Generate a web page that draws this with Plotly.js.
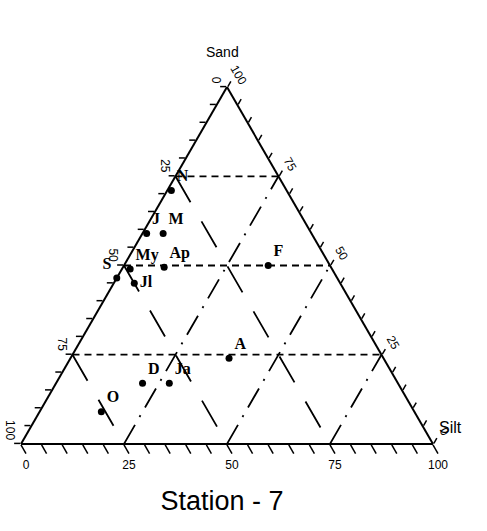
<!DOCTYPE html>
<html>
<head>
<meta charset="utf-8">
<script src="https://cdn.plot.ly/plotly-3.0.1.min.js"></script>
<style>
  html, body { margin: 0; padding: 0; background: #fff; }
  #chart { width: 487px; height: 531px; }
</style>
</head>
<body>
<div id="chart"></div>
<script>
// samples, station 7 (percent)
var names = ['N', 'J', 'M', 'My', 'S', 'Jl', 'Ap', 'F', 'A', 'D', 'Ja', 'O'];
var sand  = [71, 59, 59, 49, 46.5, 45, 49.5, 50, 24, 17, 17, 9];
var silt  = [1, 1, 5, 2, 0, 5, 10, 35, 38.5, 21, 27.5, 15];
var clay  = [28, 40, 36, 49, 53.5, 50, 40.5, 15, 37.5, 62, 55.5, 76];
var labelPos = ['top right', 'top right', 'top right', 'top right', 'top left', 'middle right',
                'top right', 'top right', 'top right', 'top right', 'top right', 'top right'];

var gridLevels = [25, 50, 75];
var tickStep = 5;

// tick labels read the other way round along each edge
var tickVals = [];
var tickText = [];
for (var v = 0; v <= 100; v += tickStep) {
    tickVals.push(v);
    tickText.push(v % 25 === 0 ? String(100 - v) : '');
}

var traces = [];

// constant sand (horizontal, short dash)
gridLevels.forEach(function (k) {
    traces.push({
        type: 'scatterternary', mode: 'lines', hoverinfo: 'skip',
        a: [k, k], b: [100 - k, 0], c: [0, 100 - k],
        line: {color: '#000', width: 1.8, dash: '7px,5px'}
    });
});

// constant clay (parallel to right edge, long dash)
gridLevels.forEach(function (k) {
    traces.push({
        type: 'scatterternary', mode: 'lines', hoverinfo: 'skip',
        a: [100 - k, 0], b: [k, k], c: [0, 100 - k],
        line: {color: '#000', width: 1.8, dash: '30px,22px'}
    });
});

// constant silt (parallel to left edge, dash-dot)
gridLevels.forEach(function (k) {
    traces.push({
        type: 'scatterternary', mode: 'lines', hoverinfo: 'skip',
        a: [0, 100 - k], b: [100 - k, 0], c: [k, k],
        line: {color: '#000', width: 1.8, dash: '22px,9px,2px,9px'}
    });
});

traces.push({
    type: 'scatterternary',
    mode: 'markers+text',
    a: sand, b: clay, c: silt,
    text: names,
    textposition: labelPos,
    textfont: {family: 'Liberation Serif', size: 16, weight: 'bold', color: '#000'},
    marker: {color: '#000', size: 7},
    cliponaxis: false
});

function axis(extra) {
    var ax = {
        min: 0,
        tickmode: 'array',
        tickvals: tickVals,
        ticktext: tickText,
        ticks: 'outside',
        ticklen: 6,
        tickwidth: 1.5,
        tickcolor: '#000',
        tickfont: {family: 'Liberation Sans', size: 12, color: '#000'},
        showgrid: false,
        showline: true,
        linecolor: '#000',
        linewidth: 2,
        title: {text: ''}
    };
    for (var key in extra) ax[key] = extra[key];
    return ax;
}

var layout = {
    width: 487,
    height: 531,
    margin: {l: 0, r: 0, t: 0, b: 0},
    paper_bgcolor: '#fff',
    showlegend: false,
    font: {family: 'Liberation Sans', color: '#000'},
    title: {
        text: 'Station - 7',
        font: {family: 'Liberation Sans', size: 27, color: '#000'},
        x: 0.456, xanchor: 'center',
        y: 0.058, yanchor: 'middle', yref: 'container'
    },
    ternary: {
        sum: 100,
        bgcolor: '#fff',
        domain: {x: [0.0431, 0.8891], y: [0.16, 0.84]},
        aaxis: axis({tickangle: 90}),
        baxis: axis({ticklen: 10}),
        caxis: axis({tickangle: 60})
    },
    annotations: [
        {
            text: 'Sand', xref: 'paper', yref: 'paper',
            x: 0.456, y: 0.92, showarrow: false,
            font: {family: 'Liberation Sans', size: 14, color: '#000'}
        },
        {
            text: 'Silt', xref: 'paper', yref: 'paper',
            x: 0.952, y: 0.176, showarrow: false,
            font: {family: 'Liberation Sans', size: 16, color: '#000'}
        }
    ]
};

Plotly.newPlot('chart', traces, layout, {displayModeBar: false, staticPlot: true});
</script>
</body>
</html>
